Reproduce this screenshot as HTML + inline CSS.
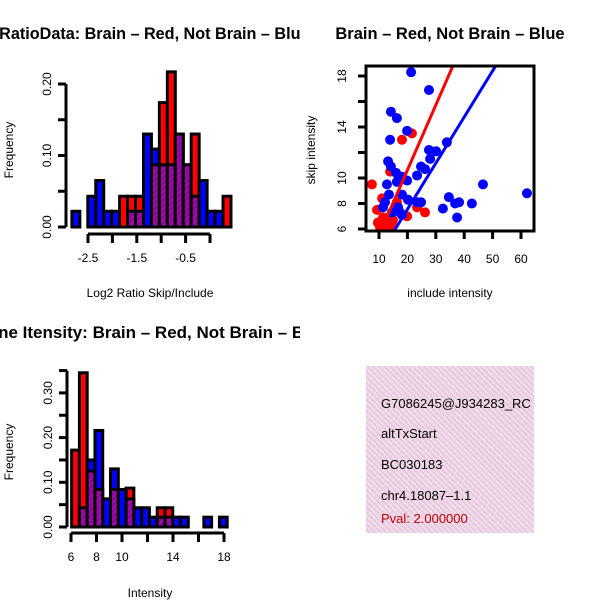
<!DOCTYPE html>
<html><head><meta charset="utf-8"><style>
html,body{margin:0;padding:0;background:#fff}
svg{display:block;font-family:"Liberation Sans",Arial,sans-serif}
</style></head><body>
<svg id="c" width="600" height="600" viewBox="0 0 600 600" xmlns="http://www.w3.org/2000/svg">
<defs>
<pattern id="purp" width="4" height="4" patternUnits="userSpaceOnUse" patternTransform="rotate(45)">
<rect width="4" height="4" fill="#b000b0"/><rect width="2" height="4" fill="#7a1090"/></pattern>
<pattern id="pink" width="4" height="4" patternUnits="userSpaceOnUse" patternTransform="rotate(-45)">
<rect width="4" height="4" fill="#f6d6f1"/><rect width="1.3" height="4" fill="#d9cccc"/></pattern>
<clipPath id="cl1"><rect x="0" y="0" width="300" height="300"/></clipPath>
<clipPath id="cl3"><rect x="0" y="300" width="300" height="300"/></clipPath>
<clipPath id="cl2"><rect x="366" y="66" width="168" height="165"/></clipPath>
<clipPath id="cl4"><rect x="366" y="366" width="168" height="167"/></clipPath>
</defs>
<g id="p1" clip-path="url(#cl1)"></g>
<g id="p2"></g>
<g id="p3" clip-path="url(#cl3)"></g>
<g id="p4">
<rect x="366" y="366" width="168" height="167" fill="url(#pink)"/>
<g clip-path="url(#cl4)" font-size="13">
<text x="381" y="408">G7086245@J934283_RC</text>
<text x="381" y="438">altTxStart</text>
<text x="381" y="469">BC030183</text>
<text x="381" y="500">chr4.18087–1.1</text>
<text x="381" y="523" fill="#c00000">Pval: 2.000000</text>
</g></g>
</svg>
<script>
// Panel 1: log2 ratio histogram
const ratioBinStart = -2.83;
const ratioBinWidth = 0.163;
const ratioBlue = [0.022,0,0.043,0.065,0.022,0.022,0,0.022,0.022,0.130,0.109,0.087,0.087,0.130,0.087,0.043,0.065,0.022,0.022,0];
const ratioRed  = [0,0,0,0,0,0,0.043,0.043,0.043,0,0.087,0.174,0.217,0.130,0.087,0.130,0,0,0,0.043];
const ratioYTicks = [0,0.05,0.10,0.15,0.20];
const ratioYLabels = ["0.00","","0.10","","0.20"];
const ratioXTicks = [-2.5,-2.0,-1.5,-1.0,-0.5,0];
const ratioXLabels = ["-2.5","","-1.5","","-0.5",""];
// Panel 3: intensity histogram
const intBinStart = 6.05;
const intBinWidth = 0.61;
const intBlue = [0,0.043,0.150,0.216,0.063,0.130,0.084,0.063,0.043,0.043,0.022,0.022,0.022,0.022,0.022,0,0,0.022,0,0.022];
const intRed  = [0.172,0.345,0.125,0.084,0,0.084,0,0.087,0,0,0,0.043,0.043,0,0,0,0,0,0,0];
const intYTicks = [0,0.05,0.10,0.15,0.20,0.25,0.30,0.35];
const intYLabels = ["0.00","","0.10","","0.20","","0.30",""];
const intXTicks = [6,8,10,12,14,16,18];
const intXLabels = ["6","8","10","","14","","18"];
// Panel 2: scatter
const blueX = [21.3,27.6,14.2,16.3,19.9,13.9,33.9,27.6,30.1,28.0,13.2,14.2,24.8,26.2,16.0,23.4,18.1,19.9,12.8,16.3,46.6,62.1,13.5,18.1,34.6,20.2,23.4,24.8,12.1,38.2,42.7,36.8,11.4,16.7,32.5,17.4,18.1,37.5,14.6];
const blueY = [18.3,16.9,15.2,14.7,13.7,13.0,12.8,12.2,12.1,11.5,11.3,10.9,10.9,10.7,10.4,10.2,10.1,9.8,9.5,9.7,9.5,8.8,8.7,8.7,8.5,8.3,8.1,8.1,8.1,8.1,8.0,8.0,7.7,7.7,7.6,7.3,7.1,6.9,7.3];
const redX = [7.5,21.6,18.1,13.9,11.1,9.3,26.2,23.4,19.9,9.6,11.4,13.2,14.6,12.1,10.4,14.9,12.8,16.3];
const redY = [9.5,13.5,13.0,10.5,8.4,7.5,7.3,7.7,7.0,6.5,6.9,6.9,6.3,6.2,6.1,6.7,6.5,8.1];
const redFit = [0.42,0.51];
const blueFit = [0.3,0.362];
const scatYTicks = [6,8,10,12,14,16,18];
const scatYLabels = ["6","8","10","","14","","18"];
const scatXTicks = [10,20,30,40,50,60];

const NS="http://www.w3.org/2000/svg";
function mk(parent,tag,attrs,txt){const e=document.createElementNS(NS,tag);for(const k in attrs)e.setAttribute(k,attrs[k]);if(txt!==undefined)e.textContent=txt;parent.appendChild(e);return e;}

function hist(g,o){
  const sx=v=>o.x0+(v-o.v0)*o.kx, sy=v=>o.y0-v*o.ky;
  const bars=mk(g,'g',{});
  
  
  for(let i=0;i<o.blue.length;i++){
    const a=o.start+i*o.bw, b=a+o.bw, x1=sx(a), x2=sx(b);
    const bl=o.blue[i], rd=o.red[i], mx=Math.max(bl,rd), mn=Math.min(bl,rd);
    if(mx>0){const r=mk(bars,'rect',{x:x1,y:sy(mx),width:x2-x1,height:sy(0)-sy(mx),fill:rd>bl?'#ff0000':'#0000ff',stroke:'#000','stroke-width':3});
      
      }
    if(mn>0){const r=mk(bars,'rect',{x:x1,y:sy(mn),width:x2-x1,height:sy(0)-sy(mn),fill:'url(#purp)',stroke:'#000','stroke-width':3});
      
      }
  }
  const ax=mk(g,'g',{stroke:'#000','stroke-width':3,fill:'none'});
  
  
  const yt=o.yTicks;
  mk(ax,'line',{x1:o.ax,y1:sy(yt[0]),x2:o.ax,y2:sy(yt[yt.length-1])});
  yt.forEach((v,i)=>{mk(ax,'line',{x1:o.ax,y1:sy(v),x2:o.ax-8,y2:sy(v)});
    if(o.yLabels[i]){const t=mk(g,'text',{x:o.ax-15,y:sy(v),'font-size':12,'text-anchor':'middle',transform:`rotate(-90 ${o.ax-15} ${sy(v)})`},o.yLabels[i]);
      
      }});
  const xt=o.xTicks;
  mk(ax,'line',{x1:sx(xt[0]),y1:o.ay,x2:sx(xt[xt.length-1]),y2:o.ay});
  xt.forEach((v,i)=>{mk(ax,'line',{x1:sx(v),y1:o.ay,x2:sx(v),y2:o.ay+9});
    if(o.xLabels[i]){const t=mk(g,'text',{x:sx(v),y:o.ay+28,'font-size':12,'text-anchor':'middle'},o.xLabels[i]);
      
      }});
}

const p1=document.getElementById('p1');
hist(p1,{x0:210,v0:0,kx:48.8,y0:227,ky:715,start:ratioBinStart,bw:ratioBinWidth,blue:ratioBlue,red:ratioRed,ax:66,ay:234,yTicks:ratioYTicks,yLabels:ratioYLabels,xTicks:ratioXTicks,xLabels:ratioXLabels});
let t;
t=mk(p1,'text',{x:-44,y:39,'font-size':16.2,'font-weight':'bold'},'Log2 RatioData: Brain – Red, Not Brain – Blue');


t=mk(p1,'text',{x:13,y:150,'font-size':12,'text-anchor':'middle',transform:'rotate(-90 13 150)'},'Frequency');


t=mk(p1,'text',{x:150,y:297,'font-size':12,'text-anchor':'middle'},'Log2 Ratio Skip/Include');



const p3=document.getElementById('p3');
hist(p3,{x0:71,v0:6,kx:12.75,y0:527,ky:447,start:intBinStart,bw:intBinWidth,blue:intBlue,red:intRed,ax:67,ay:533,yTicks:intYTicks,yLabels:intYLabels,xTicks:intXTicks,xLabels:intXLabels});
t=mk(p3,'text',{x:-17,y:338,'font-size':17,'font-weight':'bold'},'Line Itensity: Brain – Red, Not Brain – Blue');


t=mk(p3,'text',{x:13,y:452,'font-size':12,'text-anchor':'middle',transform:'rotate(-90 13 452)'},'Frequency');


t=mk(p3,'text',{x:150,y:597,'font-size':12,'text-anchor':'middle'},'Intensity');



// scatter
const p2=document.getElementById('p2');
const sx2=v=>379+(v-10)*2.84, sy2=v=>229-(v-6)*12.75;
const pts=mk(p2,'g',{'clip-path':'url(#cl2)'});


redX.forEach((x,i)=>{const c=mk(pts,'circle',{cx:sx2(x),cy:sy2(redY[i]),r:5,fill:'#ff0000'});
  
  });
blueX.forEach((x,i)=>{const c=mk(pts,'circle',{cx:sx2(x),cy:sy2(blueY[i]),r:5,fill:'#0000ff'});
  
  });
[[redFit,'#ff0000','brain-fit-line'],[blueFit,'#0000ff','not-brain-fit-line']].forEach(([f,col,nm])=>{
  const l=mk(pts,'line',{x1:sx2(0),y1:sy2(f[0]),x2:sx2(70),y2:sy2(f[0]+f[1]*70),stroke:col,'stroke-width':3});
  
  });
const bx=mk(p2,'rect',{x:366,y:66,width:168,height:165,fill:'none',stroke:'#000','stroke-width':3});


scatYTicks.forEach((v,i)=>{mk(p2,'line',{x1:366,y1:sy2(v),x2:358,y2:sy2(v),stroke:'#000','stroke-width':3});
  if(scatYLabels[i]){const tt=mk(p2,'text',{x:346,y:sy2(v),'font-size':12,'text-anchor':'middle',transform:`rotate(-90 346 ${sy2(v)})`},scatYLabels[i]);
    
    }});
scatXTicks.forEach(v=>{mk(p2,'line',{x1:sx2(v),y1:231,x2:sx2(v),y2:239,stroke:'#000','stroke-width':3});
  const tt=mk(p2,'text',{x:sx2(v),y:263,'font-size':12,'text-anchor':'middle'},String(v));
  
  });
t=mk(p2,'text',{x:450,y:39,'font-size':16.5,'font-weight':'bold','text-anchor':'middle'},'Brain – Red, Not Brain – Blue');


t=mk(p2,'text',{x:315,y:150,'font-size':12,'text-anchor':'middle',transform:'rotate(-90 315 150)'},'skip intensity');


t=mk(p2,'text',{x:450,y:297,'font-size':12,'text-anchor':'middle'},'include intensity');


</script>
</body></html>
